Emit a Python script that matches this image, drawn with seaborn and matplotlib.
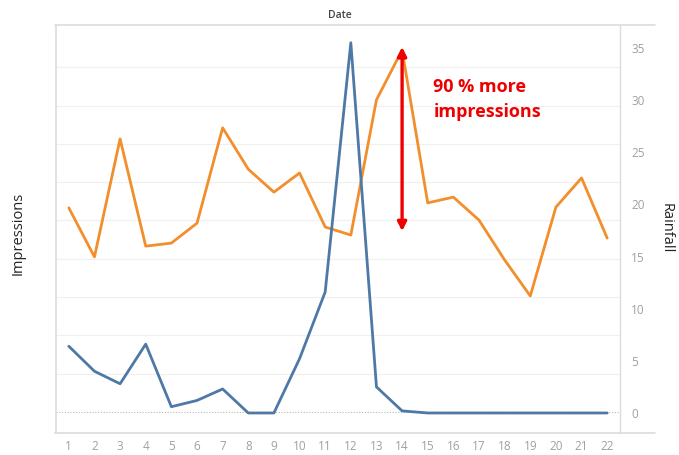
import matplotlib
matplotlib.use("Agg")
import matplotlib.pyplot as plt
from matplotlib.lines import Line2D
import numpy as np
import pandas as pd
import seaborn as sns

# Daily figures
days = list(range(1, 23))
impressions = [2665, 2025, 3565, 2165, 2205, 2465, 3710, 3170, 2870, 3120, 2415,
               2310, 4075, 4725, 2730, 2805, 2505, 1985, 1515, 2675, 3055, 2270]
rainfall = [6.4, 4.0, 2.8, 6.6, 0.6, 1.2, 2.3, 0.0, 0.0, 5.2, 11.6,
            35.5, 2.5, 0.2, 0.0, 0.0, 0.0, 0.0, 0.0, 0.0, 0.0, 0.0]
rain_ticks = [0, 5, 10, 15, 20, 25, 30, 35]
callout_text = "90 % more\nimpressions"
arrow_low = 2360  # lower end of the callout arrow, in impressions

df = pd.DataFrame({"Date": days, "Impressions": impressions, "Rainfall": rainfall})

sns.set_style("white")
plt.rcParams["font.family"] = ["Open Sans", "DejaVu Sans"]

ORANGE = "#f28e2b"
BLUE = "#4e79a7"
FRAME = "#dcdcdc"
TICK = "#a0a0a0"

fig = plt.figure(figsize=(6.79, 4.55), dpi=100)
ax = fig.add_axes([56 / 679, 22 / 455, (620 - 56) / 679, (433 - 25) / 455])
ax2 = ax.twinx()

# Impressions on the left axis, rainfall on the right axis
sns.lineplot(data=df, x="Date", y="Impressions", ax=ax, color=ORANGE,
             linewidth=2.0, zorder=3)
sns.lineplot(data=df, x="Date", y="Rainfall", ax=ax2, color=BLUE,
             linewidth=2.0, zorder=3)

ax.set_xlim(0.5, 22.5)
ax.set_ylim(-274, 5052)
ax2.set_ylim(-1.92, 37.2)

# Light horizontal guides for the impressions scale, dotted at zero
step = 500
for k in range(1, 10):
    ax.axhline(k * step, color="#f0f0f0", linewidth=0.9, zorder=0)
ax.axhline(0, color="#b8b8b8", linewidth=0.8, linestyle=(0, (1, 1.5)), zorder=1)

ax.set_yticks([])
ax.set_xticks(days)
ax.set_xticklabels([str(d) for d in days])
ax.tick_params(axis="x", length=0, labelsize=8.5, labelcolor=TICK, pad=5)

ax2.set_yticks(rain_ticks)
ax2.tick_params(axis="y", length=0, labelsize=8.5, labelcolor=TICK, pad=8)

ax.set_xlabel("")
ax.set_ylabel("")
ax2.set_ylabel("")

for a in (ax, ax2):
    for s in a.spines.values():
        s.set_visible(False)
ax.spines["left"].set_visible(True)
ax.spines["left"].set_color(FRAME)
ax.spines["left"].set_linewidth(1.2)
ax2.spines["right"].set_visible(True)
ax2.spines["right"].set_color(FRAME)
ax2.spines["right"].set_linewidth(1.0)

# Top and bottom rules running past the rainfall axis
for yy in (433, 25):
    fig.add_artist(Line2D([55 / 679, 655 / 679], [1 - yy / 455, 1 - yy / 455],
                          color=FRAME, linewidth=1.2))

fig.text(340 / 679, 1 - 15 / 455, "Date", ha="center", va="center",
         fontsize=7.5, color="#444444", fontweight="semibold")
fig.text(18 / 679, 1 - 233 / 455, "Impressions", ha="center", va="center",
         rotation=90, fontsize=10.5, color="#222222")
fig.text(666 / 679, 1 - 228 / 455, "Rainfall", ha="center", va="center",
         rotation=270, fontsize=10.5, color="#222222")

# Callout on the impressions peak
peak_day = days[impressions.index(max(impressions))]
ax.annotate("", xy=(peak_day, max(impressions) + 40), xytext=(peak_day, arrow_low),
            arrowprops=dict(arrowstyle="<|-|>", color="#ee0000", lw=2.4,
                            mutation_scale=13, shrinkA=0, shrinkB=0),
            zorder=5)
ax.text(peak_day + 1.22, 4080, callout_text, ha="left", va="center",
        fontsize=13, fontweight="bold", color="#ee0000", linespacing=1.45,
        zorder=5)

fig.savefig("out.png", dpi=100, facecolor="white")
